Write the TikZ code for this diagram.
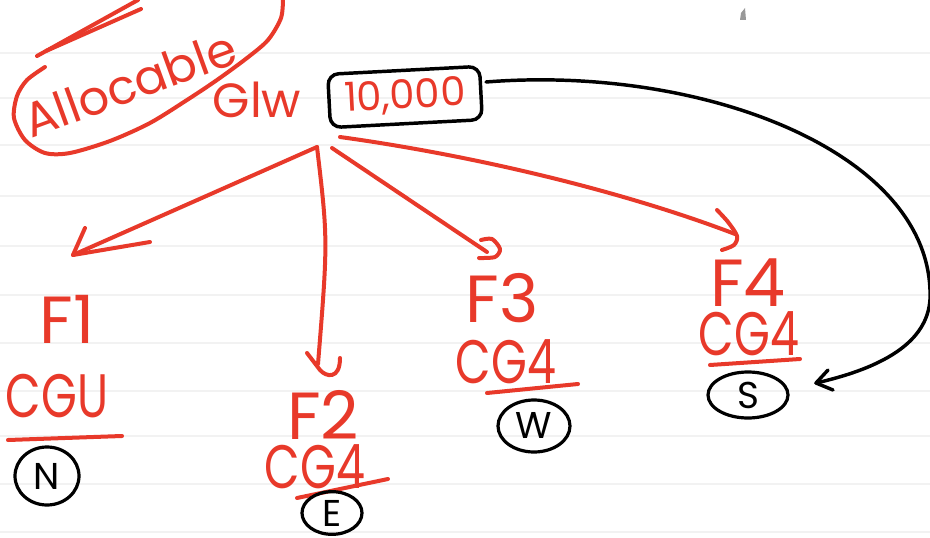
\documentclass[tikz,border=0pt]{standalone}
\usepackage{fontspec}
\setmainfont{Poppins}
\usetikzlibrary{shapes.geometric}
\definecolor{ink}{HTML}{E8392A}
\definecolor{ruling}{HTML}{F2F2F2}
\tikzset{
  redline/.style={draw=ink, line width=3pt, line cap=round, line join=round},
  blackline/.style={draw=black, line width=2.6pt, line cap=round, line join=round},
  hand/.style={text=ink, inner sep=0pt, font=\fontsize{46}{46}\selectfont},
  tag/.style={text=ink, inner sep=0pt, font=\fontsize{50}{50}\selectfont},
  ring/.style={ellipse, draw=black, line width=2.4pt, inner sep=0pt,
    font=\fontsize{28}{28}\selectfont},
}
\newcommand{\narrow}[1]{\scalebox{0.75}[1]{#1}}
\begin{document}
\begin{tikzpicture}[x=0.75pt,y=-0.75pt]
\useasboundingbox (0,0) rectangle (930,538);
\fill[white] (0,0) rectangle (930,538);
% ruled paper
\foreach \yy in {53,98,145,196,246,295,343,391,436,484,532}
  \draw[ruling, line width=1pt] (0,\yy) -- (930,\yy);
% stray pencil mark
\fill[gray!80] (740,20) -- (741,13) -- (745,8) -- (746,20) -- cycle;

% title, loosely circled and double underlined
\node[hand, rotate=20, font=\fontsize{36}{36}\selectfont] (alloc) at (130,84) {Allocable};
\draw[redline] plot[smooth] coordinates {(283,-2) (281,18) (268,40) (247,58) (217,80)
  (187,100) (150,123) (110,141) (70,153) (45,153) (25,140) (14,118) (17,96) (27,80) (45,67)};
\draw[redline] (37,56) -- (138,0);
\draw[redline] (46,51) -- (141,9);

% total amount
\node[hand, font=\fontsize{36}{36}\selectfont] (glw) at (257,100) {Glw};
\node[draw=black, line width=2.6pt, rounded corners=8pt, rotate=3,
      minimum width=114pt, minimum height=40pt, inner sep=0pt,
      text=ink, font=\fontsize{30}{30}\selectfont] (box) at (405,97) {10,000};

% branches
\node[tag] (f1) at (67,319) {F1};
\node[hand] (c1) at (57,396) {\narrow{CGU}};
\draw[redline] (8,440) -- (122,436);
\node[ring, minimum width=48pt, minimum height=43.5pt] (n) at (47,476) {N};

\node[tag] (f2) at (323,415) {F2};
\node[hand] (c2) at (315,467) {\narrow{CG4}};
\draw[redline] (297,498) -- (388,479);
\node[ring, minimum width=45pt, minimum height=32pt] (e) at (332,513) {E};

\node[tag] (f3) at (502,298) {F3};
\node[hand] (c3) at (506,362) {\narrow{CG4}};
\draw[redline] (487,393) -- (578,384);
\node[ring, minimum width=54pt, minimum height=39pt] (w) at (534,426) {W};

\node[tag] (f4) at (748,283) {F4};
\node[hand] (c4) at (749,334) {\narrow{CG4}};
\draw[redline] (710,365) -- (800,359);
\node[ring, minimum width=60pt, minimum height=34.5pt] (s) at (748,395) {S};

% red arrows fanning out to the four branches
\coordinate (hubA) at (317,147);
\coordinate (hubB) at (332,148);
\coordinate (hubC) at (340,137);
\coordinate (tip1) at (73,255);
\coordinate (tip2) at (326,377);
\coordinate (tip3) at (500,249);
\coordinate (tip4) at (737,236);

\draw[redline] (hubA) -- (tip1);
\draw[redline] (85,228) -- (tip1) -- (150,242);

\draw[redline] (hubA) .. controls (328,240) .. (318,364);
\draw[redline] (307,353) -- (320,370) .. controls (tip2) and (340,380) .. (340,358);

\draw[redline] (hubB) -- (487,252);
\draw[redline] plot[smooth] coordinates {(481,240) (492,239) (tip3) (495,257) (479,258)};

\draw[redline] (hubC) .. controls (470,155) and (620,190) .. (735,234);
\draw[redline] plot[smooth] coordinates {(717,210) (728,222) (tip4) (734,245) (722,250)};

% black arrow from the amount round to S
\coordinate (bstart) at (486,82);
\coordinate (bend) at (816,383);
\draw[blackline] (bstart) .. controls (700,65) and (925,150) .. (930,290)
  .. controls (933,335) and (895,365) .. (bend);
\draw[blackline] (828,370) -- (bend) -- (833,390);
\end{tikzpicture}
\end{document}
